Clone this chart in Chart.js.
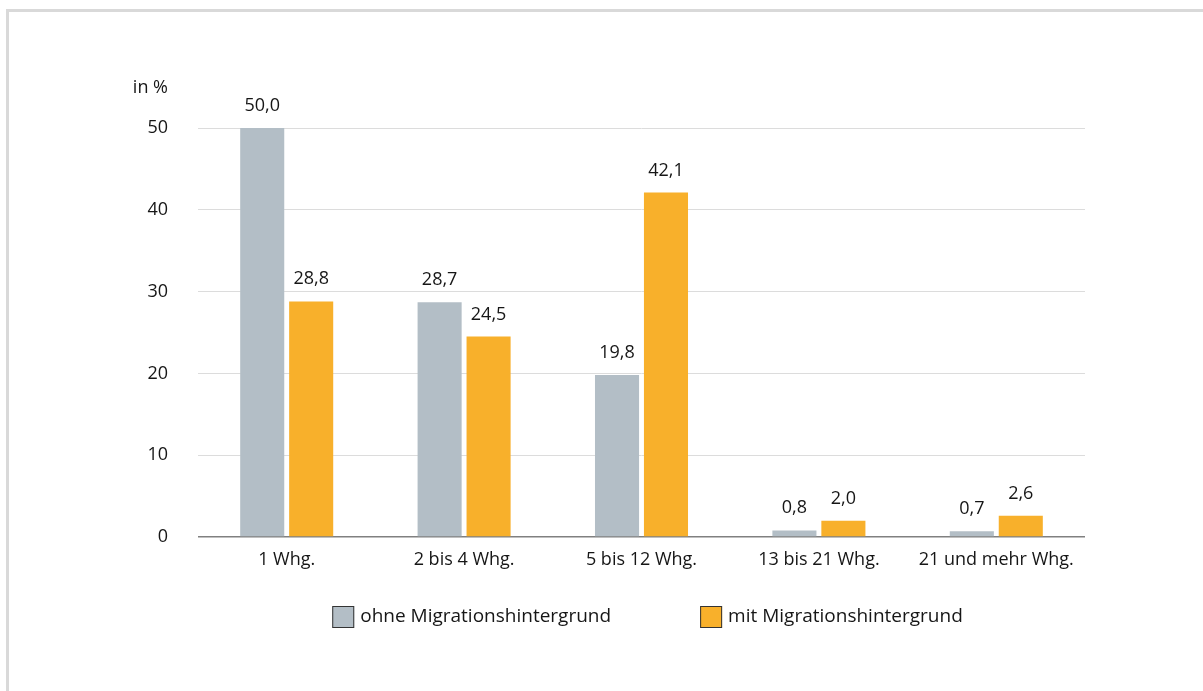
<!DOCTYPE html>
<html lang="de">
<head>
  <meta charset="UTF-8" />
  <title>Wohnungen im Gebäude nach Migrationshintergrund</title>
  <style>
    body {
      margin: 0;
      padding: 0;
      background: #fff;
      font-family: "Open Sans", Arial, sans-serif;
    }
    .rahmen {
      position: absolute;
      left: 6px;
      top: 9px;
      width: 1197px;
      height: 682px;
      border-left: 3px solid #d9d9d9;
      border-top: 3px solid #d9d9d9;
    }
    .chart-box {
      position: absolute;
      left: 0;
      top: 0;
      width: 1203px;
      height: 691px;
    }
  </style>
  <script src="https://cdn.jsdelivr.net/npm/chart.js"></script>
</head>
<body>
  <div class="rahmen"></div>
  <div class="chart-box"><canvas id="balken"></canvas></div>

  <script>
    const kategorien = ['1 Whg.', '2 bis 4 Whg.', '5 bis 12 Whg.', '13 bis 21 Whg.', '21 und mehr Whg.'];
    const ohneMigration = [50.0, 28.7, 19.8, 0.8, 0.7];
    const mitMigration = [28.8, 24.5, 42.1, 2.0, 2.6];
    const yTicks = [0, 10, 20, 30, 40, 50];

    const schrift = '"Open Sans", Arial, sans-serif';
    const textFarbe = '#161616';

    // Werte ueber den Balken (mit Komma)
    const wertePlugin = {
      id: 'werte',
      afterDatasetsDraw(chart) {
        const ctx = chart.ctx;
        ctx.save();
        ctx.font = '18px ' + schrift;
        ctx.fillStyle = textFarbe;
        ctx.textAlign = 'center';
        ctx.textBaseline = 'alphabetic';
        chart.data.datasets.forEach((ds, i) => {
          chart.getDatasetMeta(i).data.forEach((bar, j) => {
            const txt = ds.data[j].toFixed(1).replace('.', ',');
            ctx.fillText(txt, bar.x, bar.y - 17);
          });
        });
        // Achsentitel "in %"
        const y = chart.scales.y;
        ctx.textAlign = 'right';
        ctx.textBaseline = 'middle';
        ctx.fillText('in %', chart.chartArea.left - 30, y.getPixelForValue(50) - 40);
        ctx.restore();
      }
    };

    // eigene Legende unter dem Diagramm
    const legendePlugin = {
      id: 'legende',
      afterDraw(chart) {
        const ctx = chart.ctx;
        const area = chart.chartArea;
        ctx.save();
        ctx.font = '19px ' + schrift;
        const box = 22, abstand = 6, luecke = 89;
        const items = chart.data.datasets.map(ds => ({
          text: ds.label, farbe: ds.backgroundColor, w: ctx.measureText(ds.label).width
        }));
        let gesamt = 0;
        items.forEach((it, i) => { gesamt += box + abstand + it.w + (i > 0 ? luecke : 0); });
        let x = (area.left + area.right) / 2 + 6 - gesamt / 2;
        const yMitte = 617;
        items.forEach(it => {
          ctx.fillStyle = it.farbe;
          ctx.fillRect(x, yMitte - box / 2, box, box);
          ctx.strokeStyle = '#333';
          ctx.lineWidth = 1;
          ctx.strokeRect(x + 0.5, yMitte - box / 2 + 0.5, box - 1, box - 1);
          ctx.fillStyle = textFarbe;
          ctx.textAlign = 'left';
          ctx.textBaseline = 'middle';
          ctx.fillText(it.text, x + box + abstand, yMitte);
          x += box + abstand + it.w + luecke;
        });
        ctx.restore();
      }
    };

    const ctx = document.getElementById('balken').getContext('2d');
    new Chart(ctx, {
      type: 'bar',
      data: {
        labels: kategorien,
        datasets: [
          { label: 'ohne Migrationshintergrund', data: ohneMigration, backgroundColor: '#b3bec6' },
          { label: 'mit Migrationshintergrund', data: mitMigration, backgroundColor: '#f8b02b' }
        ]
      },
      options: {
        responsive: true,
        maintainAspectRatio: false,
        animation: false,
        categoryPercentage: 0.552,
        barPercentage: 0.9,
        layout: { padding: { left: 138, right: 118, top: 128, bottom: 114 } },
        plugins: {
          legend: { display: false },
          tooltip: { enabled: false }
        },
        scales: {
          x: {
            grid: { display: false },
            border: { display: false },
            ticks: {
              color: textFarbe,
              font: { family: schrift, size: 18 },
              padding: 4,
              maxRotation: 0
            },
            afterFit(s) { s.height = 40; }
          },
          y: {
            min: 0,
            max: 50,
            afterBuildTicks(s) { s.ticks = yTicks.map(v => ({ value: v })); },
            afterFit(s) { s.width = 60; },
            border: { display: false },
            grid: {
              drawTicks: false,
              color: c => c.tick.value === 0 ? '#808080' : '#dcdcdc',
              lineWidth: c => c.tick.value === 0 ? 1.5 : 1
            },
            ticks: {
              color: textFarbe,
              font: { family: schrift, size: 18 },
              padding: 30
            }
          }
        }
      },
      plugins: [wertePlugin, legendePlugin]
    });
  </script>
</body>
</html>
